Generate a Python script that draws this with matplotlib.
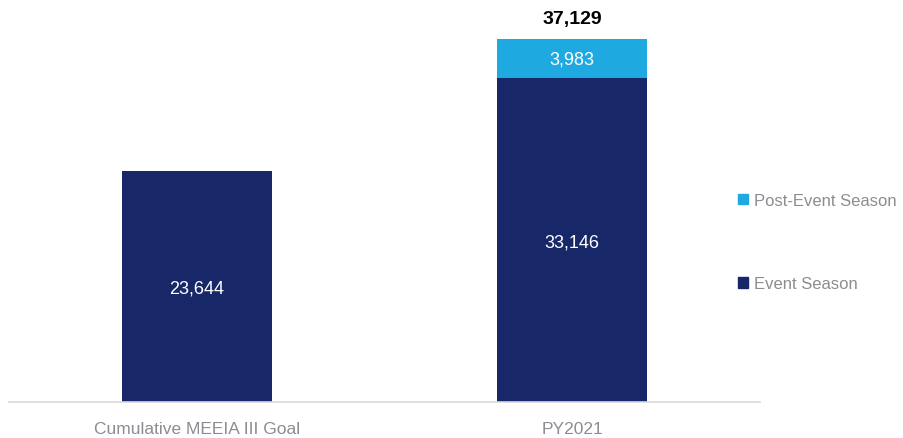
import matplotlib.pyplot as plt
from matplotlib.patches import Patch

categories = ["Cumulative MEEIA III Goal", "PY2021"]
event_season = [23644, 33146]
post_event_season = [0, 3983]
totals = [None, 37129]

NAVY = "#172767"
SKY = "#1fa9e1"
GREY = "#8a8d91"

plt.rcParams["font.family"] = ["Liberation Sans", "DejaVu Sans"]

fig = plt.figure(figsize=(9.04, 4.39), dpi=100)
ax = fig.add_axes([9 / 904, 36 / 439, 751 / 904, 391 / 439])

x = range(len(categories))
ax.bar(x, event_season, width=0.4, color=NAVY, zorder=2)
ax.bar(x, post_event_season, width=0.4, bottom=event_season, color=SKY, zorder=2)

for i, v in enumerate(event_season):
    ax.text(i, v / 2 - 200, f"{v:,}", ha="center", va="center", color="white", fontsize=13)
for i, v in enumerate(post_event_season):
    if v:
        ax.text(i, event_season[i] + v / 2, f"{v:,}", ha="center", va="center",
                color="white", fontsize=13)
for i, t in enumerate(totals):
    if t:
        ax.text(i, t + 2100, f"{t:,}", ha="center", va="center", color="black",
                fontsize=14, fontweight="bold")

ax.set_xlim(-0.5, 1.5)
ax.set_ylim(0, 40000)
ax.set_xticks(list(x))
ax.set_xticklabels(categories, fontsize=12.5, color=GREY)
ax.tick_params(axis="x", length=0, pad=14)
ax.set_yticks([])
for side in ["top", "left", "right"]:
    ax.spines[side].set_visible(False)
ax.spines["bottom"].set_color("#d9d9d9")
ax.spines["bottom"].set_linewidth(1.2)

handles = [Patch(color=SKY, label="Post-Event Season"),
           Patch(color=NAVY, label="Event Season")]
leg = fig.legend(handles=handles, loc="center left", bbox_to_anchor=(723 / 904, 1 - 243 / 439),
                 frameon=False, fontsize=12, labelcolor=GREY, handlelength=0.6,
                 handleheight=0.6, handletextpad=0.35, labelspacing=4.1)

fig.savefig("out.png", dpi=100)
